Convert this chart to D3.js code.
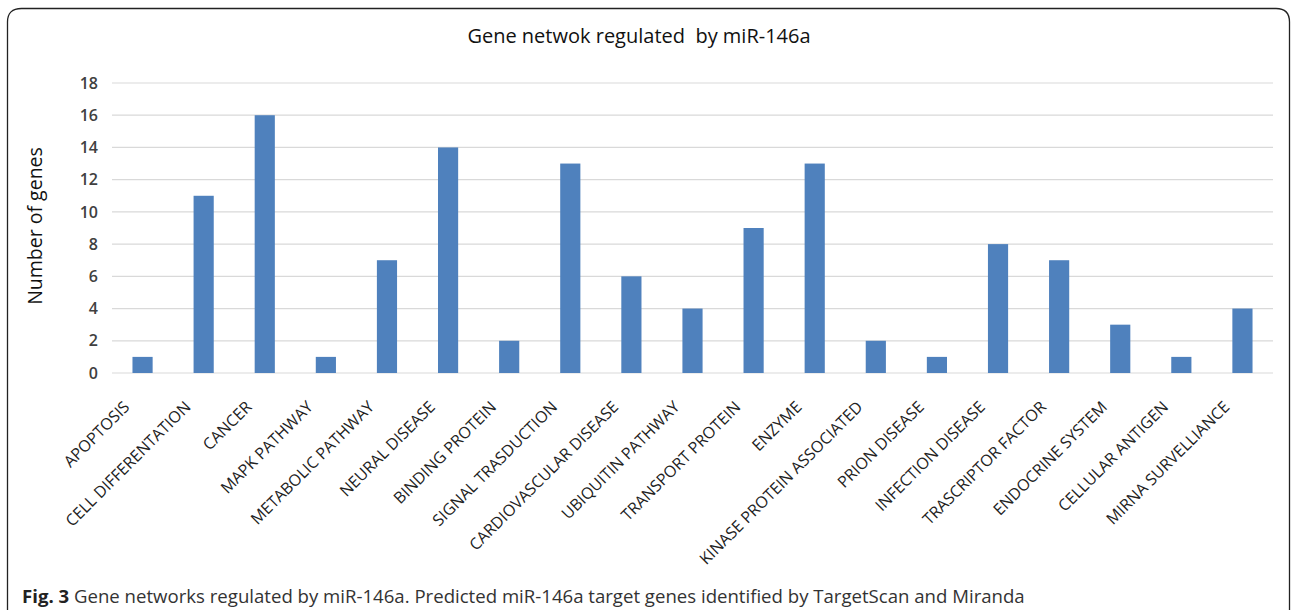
<!DOCTYPE html>
<html>
<head>
<meta charset="utf-8">
<script src="https://cdnjs.cloudflare.com/ajax/libs/d3/7.8.5/d3.min.js"></script>
<style>
  body { margin: 0; background: #fff; }
  svg { display: block; }
</style>
</head>
<body>
<div id="chart"></div>
<script>
// data
var categories = [
    "APOPTOSIS", "CELL DIFFERENTATION", "CANCER", "MAPK PATHWAY",
    "METABOLIC PATHWAY", "NEURAL DISEASE", "BINDING PROTEIN",
    "SIGNAL TRASDUCTION", "CARDIOVASCULAR DISEASE", "UBIQUITIN PATHWAY",
    "TRANSPORT PROTEIN", "ENZYME", "KINASE PROTEIN ASSOCIATED",
    "PRION DISEASE", "INFECTION DISEASE", "TRASCRIPTOR FACTOR",
    "ENDOCRINE SYSTEM", "CELLULAR ANTIGEN", "MIRNA SURVELLIANCE"
];
var geneCounts = [1, 11, 16, 1, 7, 14, 2, 13, 6, 4, 9, 13, 2, 1, 8, 7, 3, 1, 4];
var yTicks = [0, 2, 4, 6, 8, 10, 12, 14, 16, 18];

var titleText = "Gene netwok regulated  by miR-146a";
var yTitle = "Number of genes";
var captionBold = "Fig. 3";
var captionText = " Gene networks regulated by miR-146a. Predicted miR-146a target genes identified by TargetScan and Miranda";

// dimensions
var svgWidth = 1291;
var svgHeight = 610;

var margin = {
    top: 83,
    right: 18,
    bottom: 237,
    left: 112
};

var chartWidth = svgWidth - margin.left - margin.right;
var chartHeight = svgHeight - margin.top - margin.bottom;

var fontFamily = "'Open Sans', 'Noto Sans', sans-serif";
var textColor = "#404040";

var svg = d3.select("#chart")
    .append("svg")
    .attr("width", svgWidth)
    .attr("height", svgHeight);

// frame with rounded top corners
svg.append("path")
    .attr("d", "M7.5,610 L7.5,22 Q7.5,8.5 21.5,8.5 L1276,8.5 Q1289.5,8.5 1289.5,22 L1289.5,610")
    .attr("fill", "none")
    .attr("stroke", "#222")
    .attr("stroke-width", 1.3);

var chartGroup = svg.append("g")
    .attr("transform", `translate(${margin.left}, ${margin.top})`);

var xScale = d3.scaleBand()
    .domain(categories)
    .range([0, chartWidth])
    .paddingInner(0.67)
    .paddingOuter(0.335);

var yScale = d3.scaleLinear()
    .domain([0, 18])
    .range([chartHeight, 0]);

// gridlines
chartGroup.selectAll(".grid")
    .data(yTicks)
    .enter()
    .append("line")
    .attr("class", "grid")
    .attr("x1", 0)
    .attr("x2", chartWidth)
    .attr("y1", d => yScale(d))
    .attr("y2", d => yScale(d))
    .attr("stroke", "#d9d9d9")
    .attr("stroke-width", 1.2);

// y axis labels
var yAxis = d3.axisLeft(yScale)
    .tickValues(yTicks)
    .tickSize(0)
    .tickPadding(14);

var yAxisGroup = chartGroup.append("g")
    .call(yAxis);
yAxisGroup.select(".domain").remove();
yAxisGroup.selectAll("text")
    .attr("font-family", fontFamily)
    .attr("font-size", "16px")
    .attr("font-weight", 600)
    .attr("fill", textColor);

// bars
chartGroup.selectAll("rect")
    .data(categories)
    .enter()
    .append("rect")
    .attr("x", d => xScale(d))
    .attr("y", (d, i) => yScale(geneCounts[i]))
    .attr("width", xScale.bandwidth())
    .attr("height", (d, i) => chartHeight - yScale(geneCounts[i]))
    .attr("fill", "#4f81bd");

// x axis labels
var xAxis = d3.axisBottom(xScale)
    .tickSize(0)
    .tickPadding(0);

var xAxisGroup = chartGroup.append("g")
    .attr("transform", `translate(0, ${chartHeight})`)
    .call(xAxis);
xAxisGroup.select(".domain").remove();
xAxisGroup.selectAll("text")
    .attr("font-family", fontFamily)
    .attr("font-size", "16px")
    .attr("fill", "#222")
    .attr("text-anchor", "end")
    .attr("dy", 0)
    .attr("y", 0)
    .attr("transform", "translate(-12, 35) rotate(-45)");

// title
svg.append("text")
    .attr("x", 639)
    .attr("y", 43)
    .attr("text-anchor", "middle")
    .attr("font-family", fontFamily)
    .attr("font-size", "20px")
    .attr("fill", "#111")
    .style("white-space", "pre")
    .text(titleText);

// y axis title
svg.append("text")
    .attr("transform", `translate(42, ${margin.top + chartHeight / 2 - 2}) rotate(-90)`)
    .attr("text-anchor", "middle")
    .attr("font-family", fontFamily)
    .attr("font-size", "19.5px")
    .attr("fill", "#111")
    .text(yTitle);

// caption
var caption = svg.append("text")
    .attr("x", 22)
    .attr("y", 603)
    .attr("font-family", fontFamily)
    .attr("font-size", "18.6px")
    .attr("fill", "#333")
    .style("white-space", "pre");
caption.append("tspan")
    .attr("font-weight", 700)
    .attr("fill", "#222")
    .text(captionBold);
caption.append("tspan")
    .text(captionText);
</script>
</body>
</html>
